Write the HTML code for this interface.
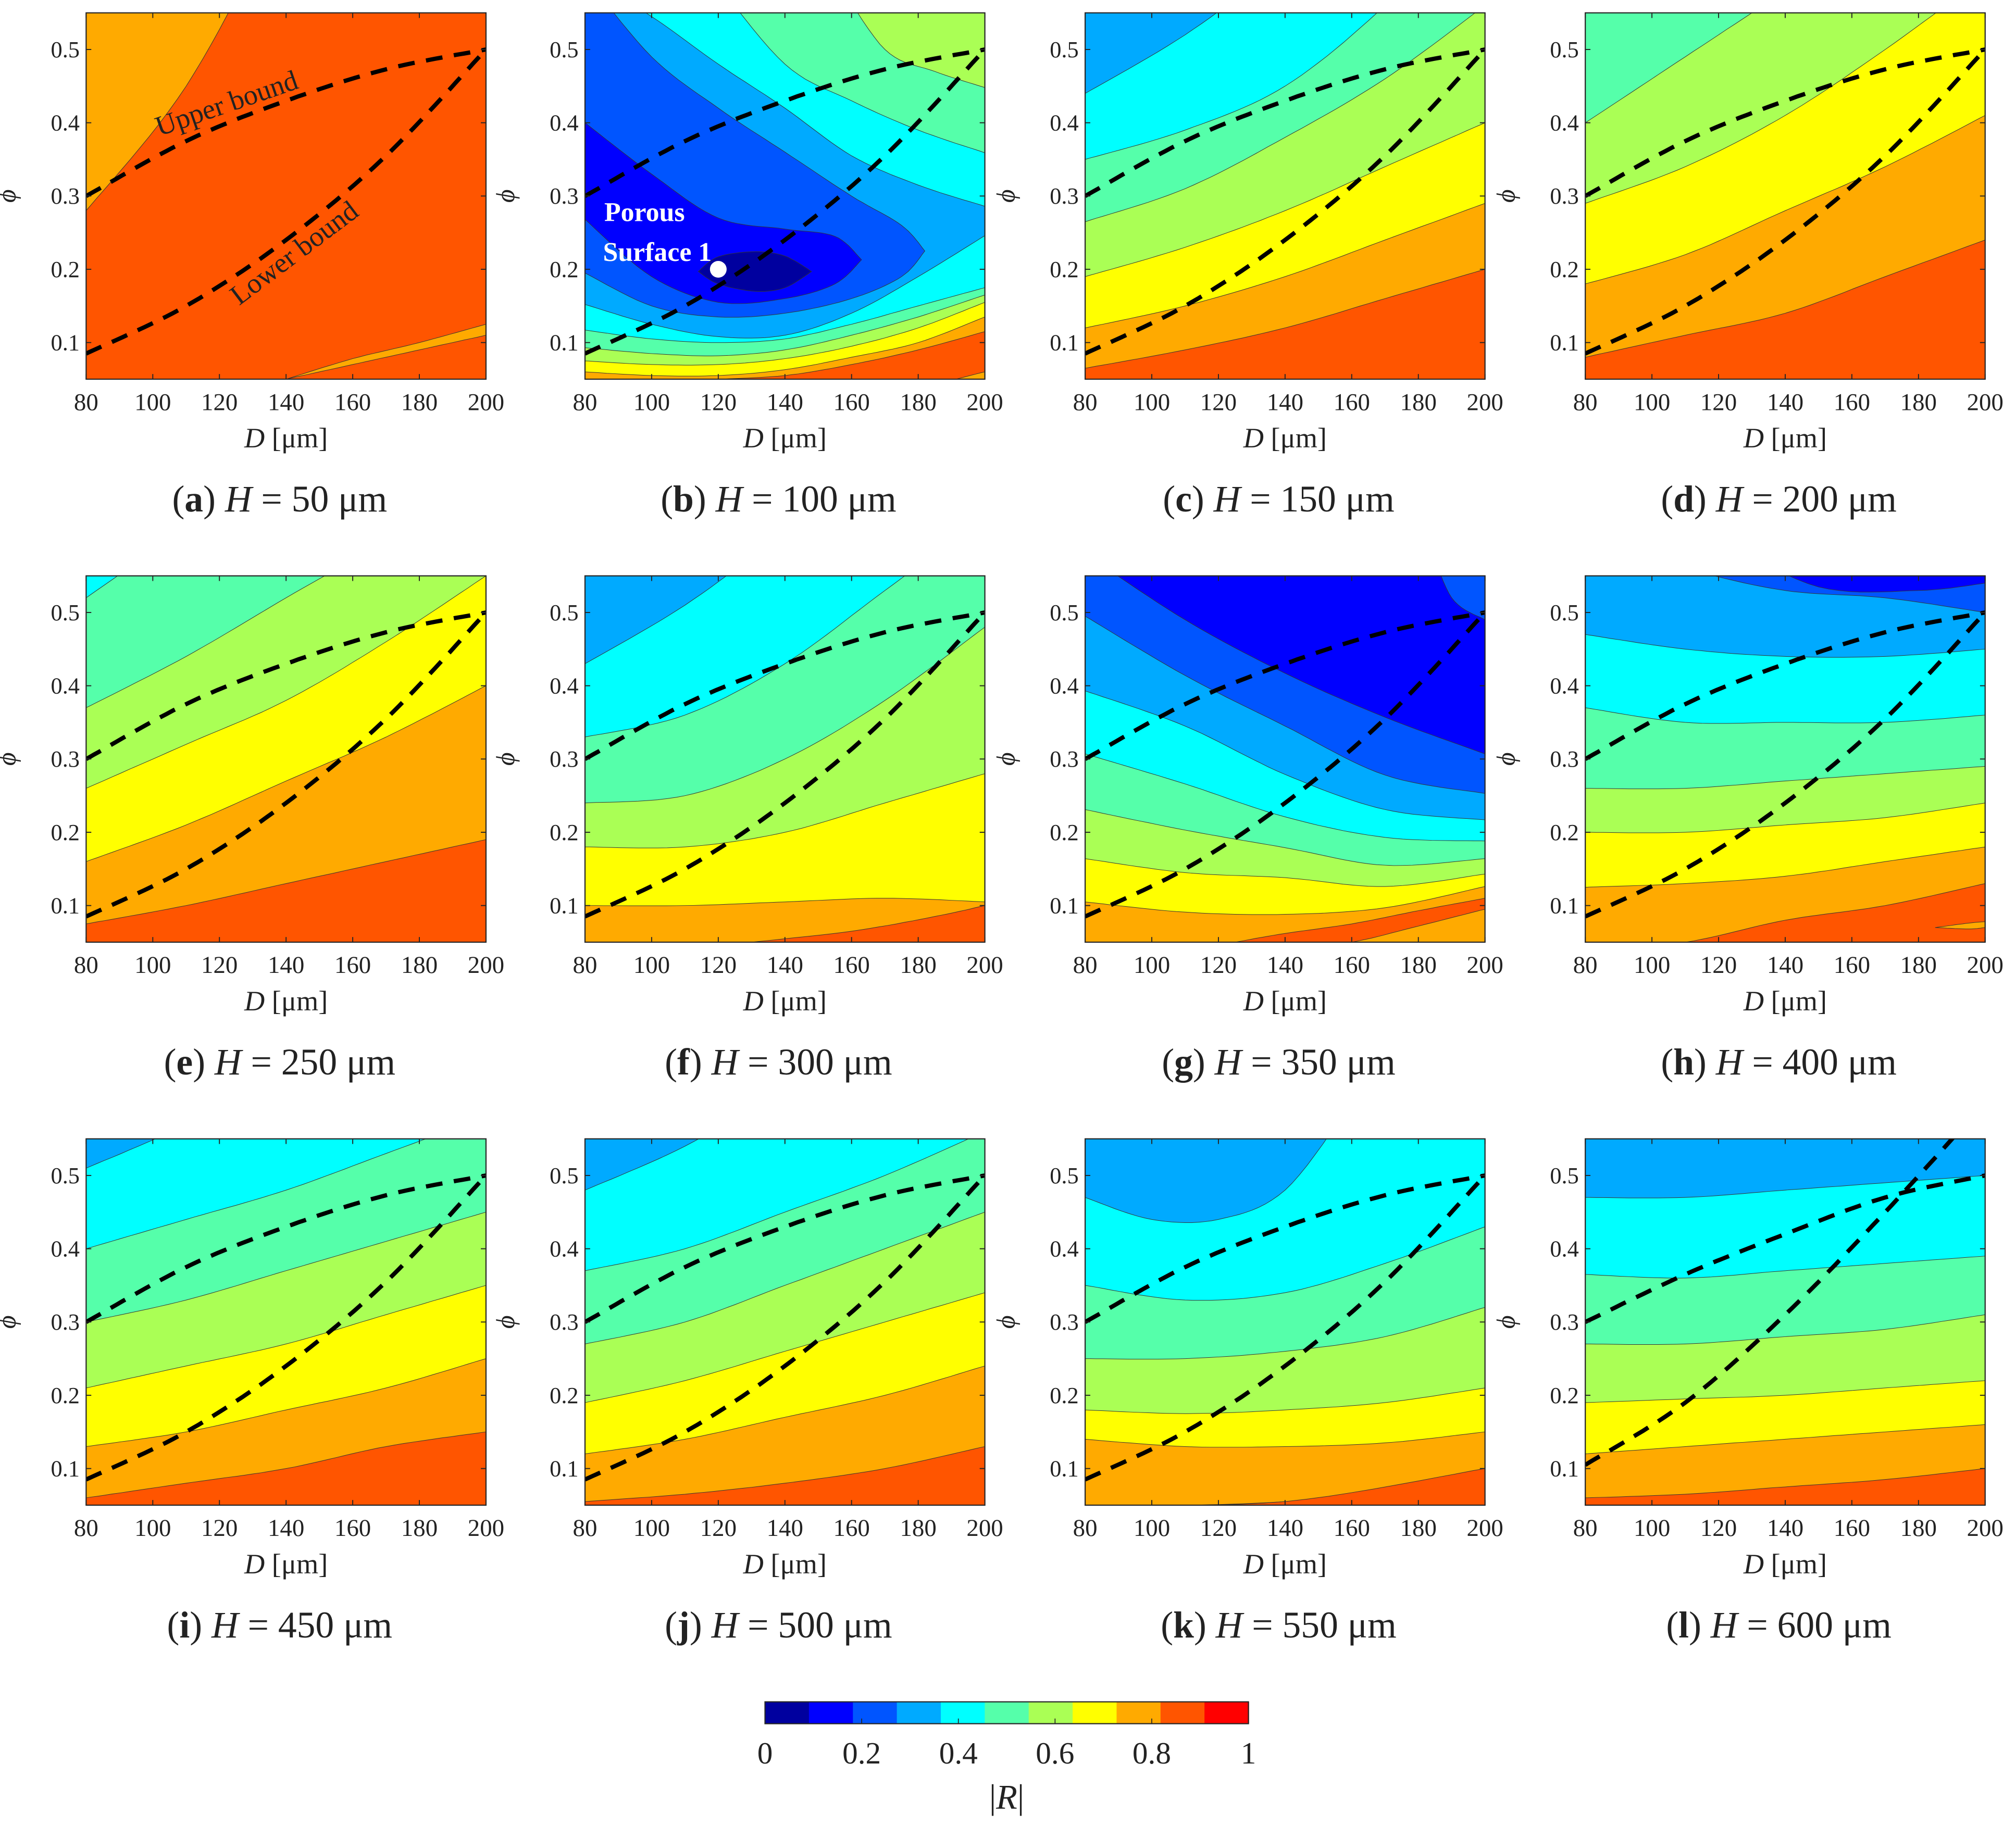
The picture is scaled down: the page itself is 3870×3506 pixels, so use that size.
<!DOCTYPE html>
<html><head><meta charset="utf-8"><style>
html,body{margin:0;padding:0;background:#fff;}
svg{display:block;}
text{font-family:"Liberation Serif",serif;fill:#222;}
</style></head><body>
<svg id="fig" width="3870" height="3506" viewBox="0 0 1568 1420.6" preserveAspectRatio="none" xmlns="http://www.w3.org/2000/svg"></svg>
<script>
// ---- data ----
const CMAP=['#00009f','#0000ff','#0055ff','#00aaff','#00ffff','#55ffaa','#aaff55','#ffff00','#ffaa00','#ff5500','#ff0000'];
const dGrid=[80,110,140,170,200];
const dGrid7=[80,100,120,140,160,180,200];
const xTicks=[80,100,120,140,160,180,200];
const yTicks=[0.1,0.2,0.3,0.4,0.5];
const cbTicks=[0,0.2,0.4,0.6,0.8,1];
const letters=['a','b','c','d','e','f','g','h','i','j','k','l'];
const Hvals=[50,100,150,200,250,300,350,400,450,500,550,600];
const upperBound=[0.3,0.375,0.43,0.473,0.5];
const lowerBound=[0.085,0.15,0.24,0.355,0.5];
const upperBoundL=[0.3,0.365,0.42,0.47,0.5];
const lowerBoundL=[0.105,0.19,0.31,0.45,0.6];
// each "above": [colorIndex, phi boundary at dGrid] -> region above curve filled
const aboveA=[[8,[0.28,0.45,0.7,0.95,1.2]]];
const aboveC=[[8,[0.065,0.09,0.12,0.16,0.2]],[7,[0.12,0.15,0.19,0.24,0.29]],[6,[0.19,0.23,0.28,0.34,0.4]],[5,[0.265,0.31,0.38,0.46,0.56]],[4,[0.35,0.39,0.45,0.56,0.7]],[3,[0.44,0.52,0.62,0.72,0.82]]];
const aboveD=[[8,[0.08,0.11,0.14,0.19,0.24]],[7,[0.18,0.22,0.28,0.34,0.41]],[6,[0.29,0.34,0.41,0.5,0.6]],[5,[0.4,0.49,0.58,0.67,0.76]]];
const aboveE=[[8,[0.075,0.1,0.13,0.16,0.19]],[7,[0.16,0.21,0.27,0.33,0.4]],[6,[0.26,0.32,0.38,0.46,0.55]],[5,[0.37,0.44,0.52,0.6,0.7]],[4,[0.52,0.62,0.75,0.9,1.0]]];
const aboveF=[[7,[0.1,0.1,0.105,0.11,0.105]],[6,[0.18,0.18,0.2,0.24,0.28]],[5,[0.24,0.25,0.3,0.38,0.48]],[4,[0.33,0.36,0.43,0.53,0.63]],[3,[0.43,0.51,0.61,0.71,0.81]]];
const aboveG=[[7,[0.105,0.091,0.088,0.097,0.126]],[6,[0.164,0.145,0.138,0.126,0.143]],[5,[0.231,0.203,0.179,0.155,0.164]],[4,[0.307,0.266,0.221,0.193,0.188]],[3,[0.393,0.345,0.279,0.231,0.217]],[2,[0.495,0.414,0.345,0.278,0.253]],[1,[0.58,0.49,0.417,0.357,0.307]]];
const aboveH=[[8,[0.04,0.05,0.08,0.1,0.13]],[7,[0.125,0.13,0.14,0.16,0.18]],[6,[0.2,0.2,0.21,0.22,0.24]],[5,[0.26,0.26,0.27,0.28,0.29]],[4,[0.37,0.35,0.35,0.35,0.36]],[3,[0.47,0.45,0.44,0.44,0.45]],[2,[0.6,0.56,0.53,0.52,0.5]]];
const aboveI=[[8,[0.06,0.08,0.1,0.13,0.15]],[7,[0.13,0.15,0.18,0.21,0.25]],[6,[0.21,0.24,0.27,0.31,0.35]],[5,[0.3,0.33,0.37,0.41,0.45]],[4,[0.4,0.44,0.48,0.53,0.58]],[3,[0.51,0.57,0.65,0.72,0.8]]];
const aboveJ=[[8,[0.055,0.065,0.08,0.1,0.13]],[7,[0.12,0.14,0.17,0.2,0.24]],[6,[0.19,0.22,0.26,0.3,0.34]],[5,[0.27,0.3,0.35,0.4,0.45]],[4,[0.37,0.4,0.45,0.5,0.56]],[3,[0.48,0.54,0.62,0.7,0.8]]];
const aboveK=[[8,[0.05,0.05,0.055,0.07,0.1]],[7,[0.14,0.13,0.13,0.135,0.15]],[6,[0.18,0.175,0.18,0.19,0.21]],[5,[0.25,0.25,0.26,0.28,0.32]],[4,[0.35,0.33,0.34,0.38,0.43]]];
const aboveL=[[8,[0.06,0.065,0.075,0.085,0.1]],[7,[0.12,0.13,0.14,0.15,0.16]],[6,[0.19,0.195,0.2,0.21,0.22]],[5,[0.27,0.27,0.28,0.29,0.31]],[4,[0.365,0.36,0.37,0.38,0.39]],[3,[0.47,0.47,0.48,0.49,0.5]]];
// bands: {c, d, lo, hi}
const bandsB=[
 {c:3,d:dGrid7,lo:[0.152,0.125,0.108,0.11,0.14,0.19,0.246],hi:[0.6,0.545,0.48,0.42,0.355,0.315,0.286]},
 {c:2,d:[80,100,120,140,160,175,182],lo:[0.195,0.15,0.135,0.14,0.16,0.19,0.225],hi:[0.6,0.49,0.42,0.36,0.3,0.26,0.225]},
 {c:1,d:[80,100,120,140,155,163],lo:[0.268,0.19,0.155,0.16,0.18,0.213],hi:[0.4,0.33,0.27,0.255,0.245,0.213]},
 {c:0,d:[114,120,131,140,148],lo:[0.197,0.18,0.17,0.175,0.197],hi:[0.197,0.217,0.224,0.218,0.197]},
 {c:5,d:[118,140,160,180,200],lo:[0.6,0.48,0.43,0.39,0.359],hi:[0.6,0.6,0.6,0.6,0.6]},
 {c:6,d:[155,170,185,200],lo:[0.6,0.5,0.47,0.448],hi:[0.6,0.6,0.6,0.6]},
 {c:5,d:dGrid7,lo:[0.04,0.04,0.04,0.04,0.04,0.04,0.04],hi:[0.117,0.105,0.1,0.105,0.125,0.15,0.175]},
 {c:6,d:dGrid7,lo:[0.04,0.04,0.04,0.04,0.04,0.04,0.04],hi:[0.093,0.085,0.082,0.09,0.11,0.135,0.165]},
 {c:7,d:dGrid7,lo:[0.04,0.04,0.04,0.04,0.04,0.04,0.04],hi:[0.075,0.07,0.07,0.078,0.095,0.12,0.155]},
 {c:8,d:dGrid7,lo:[0.04,0.04,0.04,0.04,0.04,0.04,0.04],hi:[0.06,0.055,0.055,0.063,0.08,0.1,0.135]},
 {c:9,d:[120,140,160,180,200],lo:[0.04,0.04,0.04,0.04,0.06],hi:[0.05,0.055,0.07,0.09,0.115]}
];
const bandsF=[{c:9,d:[130,160,185,200],lo:[0.04,0.04,0.04,0.04],hi:[0.05,0.065,0.085,0.1]}];
const bandsG=[{c:9,d:[125,140,160,180,200],lo:[0.04,0.04,0.05,0.072,0.095],hi:[0.05,0.062,0.075,0.093,0.11]},
 {c:2,d:[183,190,200],lo:[0.6,0.52,0.49],hi:[0.6,0.6,0.6]}];
const bandsH=[{c:1,d:[120,150,180,200],lo:[0.6,0.535,0.53,0.54],hi:[0.6,0.6,0.6,0.6]},
 {c:8,d:[185,195,200],lo:[0.07,0.068,0.07],hi:[0.07,0.076,0.078]}];
const bandsK=[{c:3,d:[80,100,120,140,160],lo:[0.47,0.44,0.44,0.48,0.6],hi:[0.6,0.6,0.6,0.6,0.6]},
 {c:9,d:[80,140,200],lo:[0.04,0.04,0.04],hi:[0.05,0.055,0.1]}];
const bandsA=[{c:8,d:[140,160,180,200],lo:[0.05,0.07,0.09,0.11],hi:[0.05,0.078,0.1,0.125]}];
const panels=[
 {base:9,above:aboveA,bands:bandsA,ub:upperBound,lb:lowerBound},
 {base:4,above:[],bands:bandsB,ub:upperBound,lb:lowerBound},
 {base:9,above:aboveC,bands:[],ub:upperBound,lb:lowerBound},
 {base:9,above:aboveD,bands:[],ub:upperBound,lb:lowerBound},
 {base:9,above:aboveE,bands:[],ub:upperBound,lb:lowerBound},
 {base:8,above:aboveF,bands:bandsF,ub:upperBound,lb:lowerBound},
 {base:8,above:aboveG,bands:bandsG,ub:upperBound,lb:lowerBound},
 {base:9,above:aboveH,bands:bandsH,ub:upperBound,lb:lowerBound},
 {base:9,above:aboveI,bands:[],ub:upperBound,lb:lowerBound},
 {base:9,above:aboveJ,bands:[],ub:upperBound,lb:lowerBound},
 {base:9,above:aboveK,bands:bandsK,ub:upperBound,lb:lowerBound},
 {base:9,above:aboveL,bands:[],ub:upperBoundL,lb:lowerBoundL}
];
// ---- layout ----
const NS='http://www.w3.org/2000/svg';
const svg=document.getElementById('fig');
const colL=[67,455,844,1233], rowT=[10,448,886], PW=311, PH=285;
function mk(tag,attrs,parent){const e=document.createElementNS(NS,tag);for(const k in attrs)e.setAttribute(k,attrs[k]);(parent||svg).appendChild(e);return e;}
function spline(ds,ps,n){
  const out=[];const m=ds.length;
  for(let i=0;i<m-1;i++){
    const p0=ps[Math.max(i-1,0)],p1=ps[i],p2=ps[i+1],p3=ps[Math.min(i+2,m-1)];
    const d0=ds[Math.max(i-1,0)],d1=ds[i],d2=ds[i+1],d3=ds[Math.min(i+2,m-1)];
    for(let k=0;k<n;k++){const t=k/n,t2=t*t,t3=t2*t;
      const f=(a0,a1,a2,a3)=>0.5*((2*a1)+(-a0+a2)*t+(2*a0-5*a1+4*a2-a3)*t2+(-a0+3*a1-3*a2+a3)*t3);
      out.push([f(d0,d1,d2,d3),f(p0,p1,p2,p3)]);}
  }
  out.push([ds[m-1],ps[m-1]]);return out;
}
panels.forEach((P,i)=>{
  const L=colL[i%4],T=rowT[Math.floor(i/4)];
  const X=d=>L+(d-80)/120*PW, Y=p=>T+(0.55-p)/0.5*PH;
  const g=mk('g',{});
  
  
  const cp=mk('clipPath',{id:'cp'+i},g);mk('rect',{x:L,y:T,width:PW,height:PH},cp);
  const pg=mk('g',{'clip-path':'url(#cp'+i+')'},g);
  const bg=mk('rect',{x:L,y:T,width:PW,height:PH,fill:CMAP[P.base]},pg);
  
  
  P.above.forEach(a=>{
    const pts=spline(dGrid,a[1],12).map(q=>X(q[0]).toFixed(1)+','+Y(q[1]).toFixed(1));
    pts.push(X(200)+','+Y(0.7),X(80)+','+Y(0.7));
    const e=mk('polygon',{points:pts.join(' '),fill:CMAP[a[0]],stroke:'#333','stroke-width':0.4},pg);
    
    
  });
  P.bands.forEach(b=>{
    const hi=spline(b.d,b.hi,10),lo=spline(b.d,b.lo,10).reverse();
    const pts=hi.concat(lo).map(q=>X(q[0]).toFixed(1)+','+Y(q[1]).toFixed(1));
    const e=mk('polygon',{points:pts.join(' '),fill:CMAP[b.c],stroke:'#333','stroke-width':0.4},pg);
    
    
  });
  [[P.ub,'upper-bound-line'],[P.lb,'lower-bound-line']].forEach(([arr,nm])=>{
    const pts=spline(dGrid,arr,16).map(q=>X(q[0]).toFixed(1)+','+Y(q[1]).toFixed(1));
    const e=mk('polyline',{points:pts.join(' '),fill:'none',stroke:'#000','stroke-width':3.3,'stroke-dasharray':'13 9'},pg);
    
    
  });
  mk('rect',{x:L,y:T,width:PW,height:PH,fill:'none',stroke:'#262626','stroke-width':0.9},g);
  xTicks.forEach(t=>{const x=X(t);
    mk('line',{x1:x,x2:x,y1:T+PH,y2:T+PH-4,stroke:'#262626','stroke-width':0.8},g);
    mk('line',{x1:x,x2:x,y1:T,y2:T+4,stroke:'#262626','stroke-width':0.8},g);
    const tx=mk('text',{x:x,y:T+PH+24,'font-size':19,'text-anchor':'middle'},g);tx.textContent=t;
    
    
  });
  yTicks.forEach(t=>{const y=Y(t);
    mk('line',{x1:L,x2:L+4,y1:y,y2:y,stroke:'#262626','stroke-width':0.8},g);
    mk('line',{x1:L+PW,x2:L+PW-4,y1:y,y2:y,stroke:'#262626','stroke-width':0.8},g);
    const tx=mk('text',{x:L-5,y:y+6,'font-size':18,'text-anchor':'end'},g);tx.textContent=t.toFixed(1);
    
    
  });
  const xl=mk('text',{x:L+PW/2,y:T+PH+53,'font-size':22,'text-anchor':'middle'},g);
  xl.innerHTML='<tspan font-style="italic">D</tspan> [μm]';
  
  
  const yl=mk('text',{x:0,y:0,'font-size':20,'font-style':'italic','text-anchor':'middle',transform:'translate('+(L-55)+','+(T+PH/2)+') rotate(-90)'},g);
  yl.textContent='ϕ';
  
  
  const cap=mk('text',{x:L+PW/2-5,y:T+PH+103,'font-size':29,'text-anchor':'middle'},g);
  cap.innerHTML='(<tspan font-weight="bold">'+letters[i]+'</tspan>) <tspan font-style="italic">H</tspan> = '+Hvals[i]+' μm';
  
  
});
// annotations
(function(){
  const L=colL[0],T=rowT[0];
  const a1=mk('text',{x:0,y:0,'font-size':22,transform:'translate(124,106) rotate(-19)'});a1.textContent='Upper bound';
  
  const a2=mk('text',{x:0,y:0,'font-size':22,transform:'translate(186,238) rotate(-37)'});a2.textContent='Lower bound';
  
  const p1=mk('text',{x:470,y:172,'font-size':21,'font-weight':'bold',style:'fill:#fff'});p1.textContent='Porous';
  
  const p2=mk('text',{x:469,y:203,'font-size':21,'font-weight':'bold',style:'fill:#fff'});p2.textContent='Surface 1';
  
  const dot=mk('circle',{cx:455+(120-80)/120*311,cy:10+(0.55-0.2)/0.5*285,r:6.5,fill:'#fff'});
  
})();
// colorbar
(function(){
  const cx0=595,cx1=971,cy=1324,ch=17;
  const g=mk('g',{});
  
  
  const w=(cx1-cx0)/CMAP.length;
  CMAP.forEach((c,k)=>{const r=mk('rect',{x:cx0+k*w,y:cy,width:w+0.5,height:ch,fill:c},g);
    });
  mk('rect',{x:cx0,y:cy,width:cx1-cx0,height:ch,fill:'none',stroke:'#262626','stroke-width':0.9},g);
  cbTicks.forEach(t=>{const x=cx0+t*(cx1-cx0);
    mk('line',{x1:x,x2:x,y1:cy+ch,y2:cy+ch-4,stroke:'#262626','stroke-width':0.7},g);
    const tx=mk('text',{x:x,y:1372,'font-size':24,'text-anchor':'middle'},g);tx.textContent=t;
    });
  const lab=mk('text',{x:(cx0+cx1)/2,y:1407,'font-size':27,'text-anchor':'middle'},g);
  lab.innerHTML='|<tspan font-style="italic">R</tspan>|';
  
})();
</script>
</body></html>
